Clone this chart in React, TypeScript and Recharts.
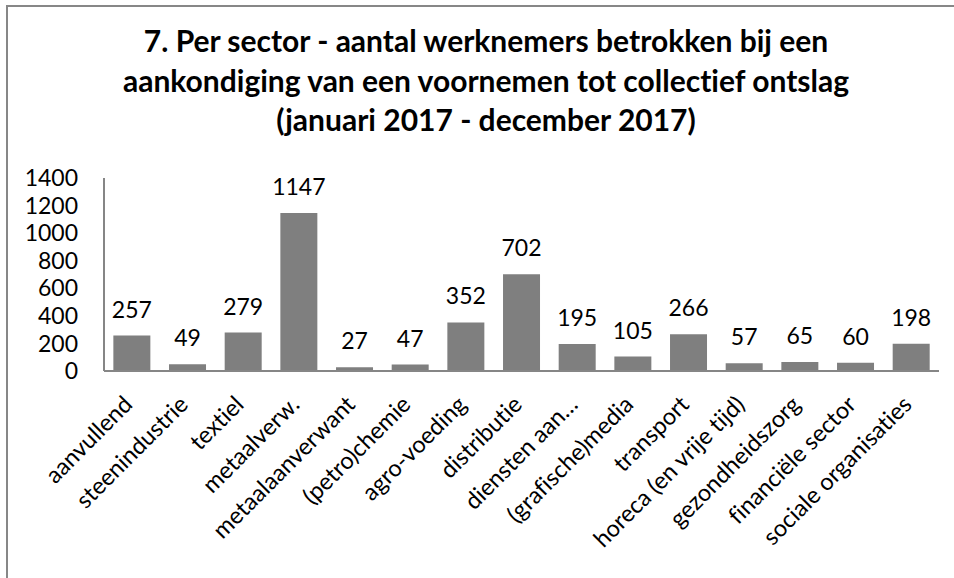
import React from 'react';
import { BarChart, Bar, XAxis, YAxis, LabelList } from 'recharts';

const sectors = [
  'aanvullend',
  'steenindustrie',
  'textiel',
  'metaalverw.',
  'metaalaanverwant',
  '(petro)chemie',
  'agro-voeding',
  'distributie',
  'diensten aan…',
  '(grafische)media',
  'transport',
  'horeca (en vrije tijd)',
  'gezondheidszorg',
  'financiële sector',
  'sociale organisaties',
];

const werknemers = [257, 49, 279, 1147, 27, 47, 352, 702, 195, 105, 266, 57, 65, 60, 198];

const yTicks = [0, 200, 400, 600, 800, 1000, 1200, 1400];

const titleLines = [
  '7. Per sector - aantal werknemers betrokken bij een',
  'aankondiging van een voornemen tot collectief ontslag',
  '(januari 2017 - december 2017)',
];

const data = sectors.map((s, i) => ({ sector: s, value: werknemers[i] }));

const FONT = 'Lato, "Open Sans", sans-serif';
const NOLIG = { fontVariantLigatures: 'none' as const };

const XTick = (props: any) => {
  const { x, y, payload } = props;
  const ax = x + 2;
  const ay = y + 35;
  return (
    <text
      x={ax}
      y={ay}
      transform={`rotate(-45 ${ax} ${ay})`}
      textAnchor="end"
      fontSize={23.5}
      fontFamily={FONT}
      fill="#000"
      style={NOLIG}
    >
      {payload.value}
    </text>
  );
};

export default function App() {
  return (
    <div
      style={{
        position: 'absolute',
        left: 0,
        top: 0,
        width: 954,
        height: 578,
        overflow: 'hidden',
        background: '#fff',
        fontFamily: FONT,
        fontVariantLigatures: 'none',
      }}
    >
      <div
        style={{
          position: 'absolute',
          left: 6,
          top: 5,
          width: 1100,
          height: 1100,
          border: '2px solid #878787',
        }}
      />
      <svg
        width={954}
        height={160}
        style={{ position: 'absolute', left: 0, top: 0 }}
      >
        {titleLines.map((t, i) => (
          <text
            key={i}
            x={486}
            y={52 + i * 39.5}
            textAnchor="middle"
            fontSize={30}
            fontWeight="bold"
            fontFamily={FONT}
            fill="#000"
            style={NOLIG}
          >
            {t}
          </text>
        ))}
      </svg>
      <div style={{ position: 'absolute', left: 0, top: 0 }}>
        <BarChart
          width={954}
          height={578}
          data={data}
          margin={{ top: 178, right: 15, left: 8, bottom: 0 }}
          barCategoryGap="16.8%"
        >
          <XAxis
            dataKey="sector"
            interval={0}
            height={207}
            tickLine={false}
            tickSize={0}
            tickMargin={0}
            axisLine={{ stroke: '#868686', strokeWidth: 2 }}
            tick={<XTick />}
          />
          <YAxis
            domain={[0, 1400]}
            ticks={yTicks}
            interval={0}
            width={96}
            tickLine={false}
            tickSize={6}
            tickMargin={20}
            axisLine={{ stroke: '#868686', strokeWidth: 2 }}
            tick={{ fontSize: 23, fill: '#000', fontFamily: FONT }}
          />
          <Bar dataKey="value" fill="#7f7f7f" isAnimationActive={false}>
            <LabelList
              dataKey="value"
              position="top"
              offset={18}
              fontSize={23}
              fill="#000"
              fontFamily={FONT}
            />
          </Bar>
        </BarChart>
      </div>
    </div>
  );
}
